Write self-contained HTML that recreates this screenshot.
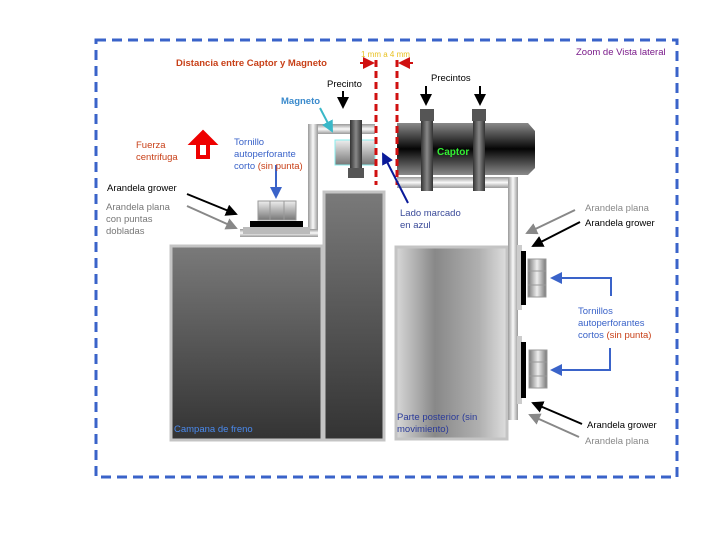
<!DOCTYPE html>
<html><head><meta charset="utf-8"><style>
html,body{margin:0;padding:0;background:#fff;width:720px;height:540px;overflow:hidden}
svg{display:block;font-family:"Liberation Sans","DejaVu Sans",sans-serif}
</style></head><body>
<svg width="720" height="540" viewBox="0 0 720 540" xmlns="http://www.w3.org/2000/svg">
<defs>
<linearGradient id="gv" x1="0" y1="0" x2="0" y2="1"><stop offset="0" stop-color="#7a7a7a"/><stop offset="1" stop-color="#333"/></linearGradient>
<linearGradient id="gh" x1="0" y1="0" x2="1" y2="0"><stop offset="0" stop-color="#d8d8d8"/><stop offset="0.35" stop-color="#888"/><stop offset="0.75" stop-color="#b0b0b0"/><stop offset="1" stop-color="#dedede"/></linearGradient>
<linearGradient id="cap" x1="0" y1="0" x2="0" y2="1"><stop offset="0" stop-color="#8a8a8a"/><stop offset="0.5" stop-color="#050505"/><stop offset="1" stop-color="#8a8a8a"/></linearGradient>
<linearGradient id="pipeH" x1="0" y1="0" x2="0" y2="1"><stop offset="0" stop-color="#999"/><stop offset="0.5" stop-color="#fafafa"/><stop offset="1" stop-color="#999"/></linearGradient>
<linearGradient id="pipeV" x1="0" y1="0" x2="1" y2="0"><stop offset="0" stop-color="#999"/><stop offset="0.5" stop-color="#fafafa"/><stop offset="1" stop-color="#999"/></linearGradient>
<linearGradient id="band" x1="0" y1="0" x2="1" y2="0"><stop offset="0" stop-color="#333"/><stop offset="0.5" stop-color="#888"/><stop offset="1" stop-color="#333"/></linearGradient>
<linearGradient id="scr" x1="0" y1="0" x2="0" y2="1"><stop offset="0" stop-color="#eee"/><stop offset="1" stop-color="#777"/></linearGradient>
<linearGradient id="scrH" x1="0" y1="0" x2="1" y2="0"><stop offset="0" stop-color="#777"/><stop offset="0.5" stop-color="#eee"/><stop offset="1" stop-color="#777"/></linearGradient>
<marker id="ab" markerWidth="6" markerHeight="6" refX="5" refY="3" orient="auto"><path d="M0,0L6,3L0,6z" fill="#000"/></marker>
<marker id="ag" markerWidth="6" markerHeight="6" refX="5" refY="3" orient="auto"><path d="M0,0L6,3L0,6z" fill="#888"/></marker>
<marker id="abl" markerWidth="6" markerHeight="6" refX="5" refY="3" orient="auto"><path d="M0,0L6,3L0,6z" fill="#3a63c9"/></marker>
<marker id="anv" markerWidth="6" markerHeight="6" refX="5" refY="3" orient="auto"><path d="M0,0L6,3L0,6z" fill="#0a1a99"/></marker>
<marker id="acy" markerWidth="6" markerHeight="6" refX="5" refY="3" orient="auto"><path d="M0,0L6,3L0,6z" fill="#3ab8c8"/></marker>
<marker id="ar" markerWidth="6" markerHeight="6" refX="5" refY="3" orient="auto"><path d="M0,0L6,3L0,6z" fill="#d01010"/></marker>
</defs>
<rect x="96" y="40" width="581" height="437" fill="none" stroke="#3a63c9" stroke-width="3" stroke-dasharray="10,6"/>

<rect x="171" y="246" width="151" height="194" fill="url(#gv)" stroke="#c4c4c4" stroke-width="3"/>
<rect x="324" y="192" width="60" height="248" fill="url(#gv)" stroke="#c4c4c4" stroke-width="3"/>
<rect x="396" y="247" width="111" height="192" fill="url(#gh)" stroke="#c4c4c4" stroke-width="3"/>

<rect x="308" y="124" width="67" height="10" fill="url(#pipeH)"/>
<rect x="308" y="124" width="10" height="112" fill="url(#pipeV)"/>
<rect x="240" y="229" width="78" height="8" fill="url(#pipeH)"/>
<rect x="243" y="227" width="67" height="7" fill="#bbb"/>
<rect x="250" y="221" width="53" height="6" fill="#000"/>
<rect x="258" y="201" width="38" height="19" fill="url(#scr)" stroke="#999"/>
<line x1="270" y1="201" x2="270" y2="220" stroke="#999"/><line x1="284" y1="201" x2="284" y2="220" stroke="#999"/>

<rect x="335" y="140" width="40" height="25" fill="url(#scr)" stroke="#8ee" stroke-width="1"/>
<rect x="350" y="120" width="12" height="50" fill="url(#band)"/>
<rect x="348" y="168" width="16" height="10" fill="#555"/>

<rect x="397" y="177" width="120" height="11" fill="url(#pipeH)"/>
<rect x="508" y="177" width="10" height="243" fill="url(#pipeV)"/>
<rect x="397" y="123" width="121" height="52" fill="url(#cap)"/>
<path d="M518,123 L528,123 L535,131 L535,168 L528,175 L518,175 Z" fill="url(#cap)"/>
<rect x="420" y="109" width="14" height="12" fill="#555"/>
<rect x="421" y="121" width="12" height="70" fill="url(#band)"/>
<rect x="472" y="109" width="14" height="12" fill="#555"/>
<rect x="473" y="121" width="12" height="70" fill="url(#band)"/>
<text x="437" y="155" font-size="10" font-weight="bold" fill="#33ee33">Captor</text>

<line x1="376" y1="60" x2="376" y2="185" stroke="#d01010" stroke-width="3" stroke-dasharray="7,4"/>
<line x1="397" y1="60" x2="397" y2="185" stroke="#d01010" stroke-width="3" stroke-dasharray="7,4"/>
<line x1="360" y1="63" x2="373" y2="63" stroke="#d01010" stroke-width="2" marker-end="url(#ar)"/>
<line x1="413" y1="63" x2="400" y2="63" stroke="#d01010" stroke-width="2" marker-end="url(#ar)"/>

<rect x="517" y="245" width="5" height="65" fill="#ccc"/>
<rect x="521" y="251" width="5" height="54" fill="#000"/>
<rect x="528" y="259" width="18" height="38" fill="url(#scrH)" stroke="#999"/>
<line x1="528" y1="271" x2="546" y2="271" stroke="#999"/><line x1="528" y1="285" x2="546" y2="285" stroke="#999"/>
<rect x="517" y="336" width="5" height="68" fill="#ccc"/>
<rect x="521" y="342" width="5" height="56" fill="#000"/>
<rect x="529" y="350" width="18" height="38" fill="url(#scrH)" stroke="#999"/>
<line x1="529" y1="362" x2="547" y2="362" stroke="#999"/><line x1="529" y1="376" x2="547" y2="376" stroke="#999"/>

<path d="M203,131 L216,144 L209,144 L209,158 L197,158 L197,144 L190,144 Z" fill="#e00" stroke="#e00" stroke-width="2"/>
<rect x="200" y="145" width="6" height="10" fill="#fff"/>

<line x1="343" y1="91" x2="343" y2="107" stroke="#000" stroke-width="2" marker-end="url(#ab)"/>
<line x1="426" y1="86" x2="426" y2="104" stroke="#000" stroke-width="2" marker-end="url(#ab)"/>
<line x1="480" y1="86" x2="480" y2="104" stroke="#000" stroke-width="2" marker-end="url(#ab)"/>
<line x1="320" y1="108" x2="332" y2="131" stroke="#3ab8c8" stroke-width="2" marker-end="url(#acy)"/>
<line x1="276" y1="165" x2="276" y2="197" stroke="#3a63c9" stroke-width="2" marker-end="url(#abl)"/>
<line x1="187" y1="194" x2="236" y2="214" stroke="#000" stroke-width="2" marker-end="url(#ab)"/>
<line x1="187" y1="206" x2="236" y2="228" stroke="#888" stroke-width="2" marker-end="url(#ag)"/>
<line x1="408" y1="203" x2="383" y2="154" stroke="#0a1a99" stroke-width="2" marker-end="url(#anv)"/>
<line x1="575" y1="210" x2="527" y2="233" stroke="#888" stroke-width="2" marker-end="url(#ag)"/>
<line x1="580" y1="222" x2="533" y2="246" stroke="#000" stroke-width="2" marker-end="url(#ab)"/>
<polyline points="611,296 611,278 552,278" fill="none" stroke="#3a63c9" stroke-width="2" marker-end="url(#abl)"/>
<polyline points="610,348 610,370 552,370" fill="none" stroke="#3a63c9" stroke-width="2" marker-end="url(#abl)"/>
<line x1="582" y1="424" x2="533" y2="403" stroke="#000" stroke-width="2" marker-end="url(#ab)"/>
<line x1="579" y1="437" x2="530" y2="415" stroke="#888" stroke-width="2" marker-end="url(#ag)"/>

<g font-size="9.5">
<text x="176" y="66" font-weight="bold" fill="#c84018">Distancia entre Captor y Magneto</text>
<text x="361" y="57" font-size="8" fill="#e8c020">1 mm a 4 mm</text>
<text x="576" y="55" fill="#7a1a8a">Zoom de Vista lateral</text>
<text x="327" y="87" fill="#000">Precinto</text>
<text x="431" y="81" fill="#000">Precintos</text>
<text x="281" y="104" font-weight="bold" fill="#3a8acc">Magneto</text>
<text x="136" y="148" fill="#c84018">Fuerza</text>
<text x="136" y="160" fill="#c84018">centrifuga</text>
<text x="234" y="145" fill="#3a63c9">Tornillo</text>
<text x="234" y="157" fill="#3a63c9">autoperforante</text>
<text x="234" y="169" fill="#3a63c9">corto <tspan fill="#c84018">(sin punta)</tspan></text>
<text x="107" y="191" fill="#000">Arandela grower</text>
<text x="106" y="210" fill="#777">Arandela plana</text>
<text x="106" y="222" fill="#777">con puntas</text>
<text x="106" y="234" fill="#777">dobladas</text>
<text x="400" y="216" fill="#3a4a99">Lado marcado</text>
<text x="400" y="228" fill="#3a4a99">en azul</text>
<text x="585" y="211" fill="#888">Arandela plana</text>
<text x="585" y="226" fill="#000">Arandela grower</text>
<text x="578" y="314" fill="#3a63c9">Tornillos</text>
<text x="578" y="326" fill="#3a63c9">autoperforantes</text>
<text x="578" y="338" fill="#3a63c9">cortos <tspan fill="#c84018">(sin punta)</tspan></text>
<text x="587" y="428" fill="#000">Arandela grower</text>
<text x="585" y="444" fill="#888">Arandela plana</text>
<text x="174" y="432" fill="#4a8aee">Campana de freno</text>
<text x="397" y="420" fill="#2a3a99">Parte posterior (sin</text>
<text x="397" y="432" fill="#2a3a99">movimiento)</text>
</g>
</svg>
</body></html>
